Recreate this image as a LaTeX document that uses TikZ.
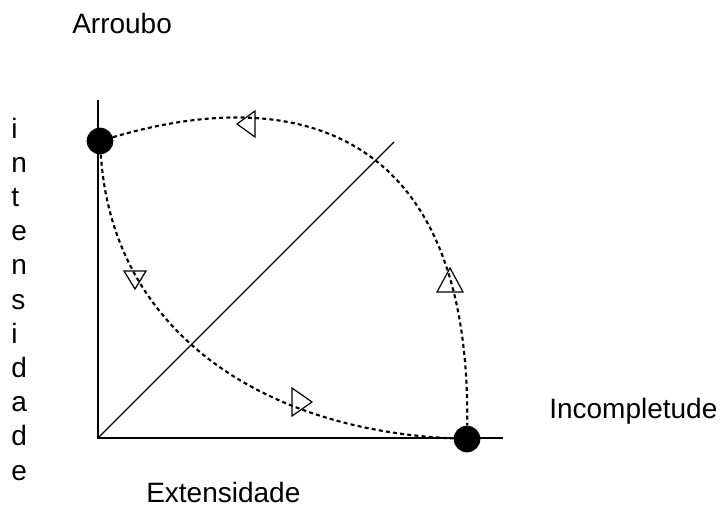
\documentclass[tikz,border=0pt]{standalone}
\usepackage{fontspec}
\setmainfont{Liberation Sans}
\usepackage{tikz}

\tikzset{
  dot/.style={circle,fill=black,inner sep=0pt,minimum size=20pt},
  curva/.style={line width=1.6pt,dash pattern=on 3pt off 2.4pt},
  seta/.style={line width=0.9pt,line join=miter},
  rotulo/.style={anchor=base west,inner sep=0pt,font=\fontsize{21}{25}\selectfont}
}

\begin{document}
\begin{tikzpicture}[x=0.75pt,y=-0.75pt]
    \useasboundingbox (0,0) rectangle (723,510);
    % eixos
    \coordinate (O) at (98,438);
    \coordinate (Ytop) at (98,100);
    \coordinate (Xend) at (503,438);
    \coordinate (D) at (394,142);
    \draw[line width=0.9pt] (Ytop)--(O)--(Xend);
    \draw[line width=0.9pt] (O)--(D);

    \node[dot] (A) at (100,141) {};
    \node[dot] (B) at (467,439) {};

    % curvas tracejadas
    \draw[curva] (A) .. controls (300,82) and (471,132) .. (B);
    \draw[curva] (A) .. controls (112,330) and (260,430) .. (B);

    % setas
    \draw[seta] (237,124)--(255,111)--(255,137)--cycle;
    \draw[seta] (135,289)--(124,271)--(146,271)--cycle;
    \draw[seta] (450,268)--(437,292)--(463,292)--cycle;
    \draw[seta] (312,402)--(292,388)--(292,416)--cycle;

    % textos
    \node[rotulo] (arroubo) at (72,34) {Arroubo};
    \node[rotulo] (incompl) at (549,418) {Incompletude};
    \node[rotulo] (extens) at (146,502) {Extensidade};
    \foreach \l [count=\i from 0] in {i,n,t,e,n,s,i,d,a,d,e}
{
    \node[rotulo] (int\i) at (11,138+34.2*\i) {\l};
}
\end{tikzpicture}
\end{document}
